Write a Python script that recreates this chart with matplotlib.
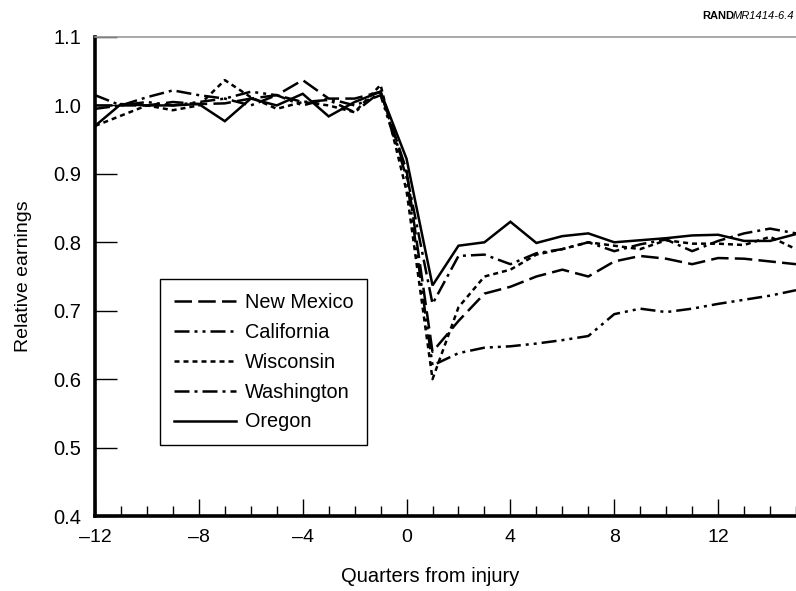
import matplotlib
matplotlib.use("Agg")
import matplotlib.pyplot as plt
from matplotlib.ticker import MultipleLocator, FixedLocator

quarters = list(range(-12, 16))

new_mexico = [1.000, 1.000, 1.000, 1.005, 1.002, 1.003, 1.010, 1.015, 1.037, 1.010, 1.010, 1.020,
              0.905, 0.640, 0.685, 0.725, 0.735, 0.750, 0.760, 0.750, 0.772, 0.780, 0.776, 0.768,
              0.777, 0.776, 0.772, 0.768]
california = [1.015, 1.000, 1.005, 1.000, 1.005, 1.010, 1.020, 1.015, 1.000, 1.010, 1.000, 1.015,
              0.895, 0.620, 0.638, 0.646, 0.648, 0.652, 0.657, 0.663, 0.695, 0.703, 0.698, 0.703,
              0.710, 0.716, 0.722, 0.730]
wisconsin = [0.970, 0.985, 1.000, 0.993, 1.000, 1.037, 1.012, 0.995, 1.005, 1.000, 0.990, 1.030,
             0.875, 0.600, 0.705, 0.750, 0.760, 0.782, 0.790, 0.800, 0.795, 0.790, 0.803, 0.798,
             0.798, 0.796, 0.808, 0.790]
washington = [0.995, 1.000, 1.012, 1.022, 1.015, 1.010, 1.000, 1.015, 1.005, 1.008, 0.990, 1.020,
              0.900, 0.710, 0.780, 0.782, 0.768, 0.784, 0.790, 0.800, 0.787, 0.797, 0.804, 0.787,
              0.802, 0.813, 0.820, 0.813]
oregon = [0.970, 1.002, 1.000, 1.000, 1.002, 0.977, 1.010, 1.000, 1.017, 0.984, 1.005, 1.020,
          0.922, 0.737, 0.795, 0.800, 0.830, 0.799, 0.809, 0.813, 0.800, 0.803, 0.806, 0.810,
          0.811, 0.802, 0.802, 0.812]

series = [
    ("New Mexico", new_mexico, (0, (7, 2.5))),
    ("California", california, (0, (6, 2, 1.2, 2, 1.2, 2))),
    ("Wisconsin", wisconsin, (0, (2, 1.6))),
    ("Washington", washington, (0, (6, 2, 1.2, 2))),
    ("Oregon", oregon, "-"),
]

x_ticks = [-12, -8, -4, 0, 4, 8, 12]
x_tick_labels = ["\u201312", "\u20138", "\u20134", "0", "4", "8", "12"]
y_ticks = [0.4, 0.5, 0.6, 0.7, 0.8, 0.9, 1.0, 1.1]

plt.rcParams["font.family"] = ["Liberation Sans", "DejaVu Sans"]

fig = plt.figure(figsize=(7.96, 5.91), dpi=100)
ax = fig.add_axes([95 / 796, 1 - 516 / 591, 701 / 796, 479 / 591])

for name, vals, ls in series:
    ax.plot(quarters, vals, color="black", linewidth=1.8, linestyle=ls, label=name,
            solid_joinstyle="miter")

ax.set_xlim(-12, 15)
ax.set_ylim(0.4, 1.1)

ax.spines["left"].set_linewidth(2.6)
ax.spines["bottom"].set_linewidth(2.6)
ax.spines["right"].set_visible(False)
ax.spines["top"].set_color("#999999")
ax.spines["top"].set_linewidth(1.2)

ax.xaxis.set_major_locator(FixedLocator(x_ticks))
ax.set_xticklabels(x_tick_labels)
ax.xaxis.set_minor_locator(MultipleLocator(1))
ax.set_yticks(y_ticks)
ax.set_yticklabels([f"{v:.1f}" for v in y_ticks])

ax.tick_params(axis="x", which="major", direction="in", length=12, width=1.0,
               labelsize=14, pad=9, top=False)
ax.tick_params(axis="x", which="minor", direction="in", length=7, width=1.0, top=False)
ax.tick_params(axis="y", which="major", direction="in", length=16, width=1.0,
               labelsize=14.5, pad=10, right=False)

ax.set_xlabel("Quarters from injury", fontsize=14.5)
ax.xaxis.set_label_coords((430 - 95) / 701, -(577 - 516) / 479)
ax.xaxis.label.set_va("center")
ax.set_ylabel("Relative earnings", fontsize=14)
ax.yaxis.set_label_coords(-(95 - 24) / 701, 0.5)
ax.yaxis.label.set_va("center")

leg = ax.legend(loc="upper left", bbox_to_anchor=(0.093, 0.495), fontsize=14.3,
                handlelength=3.1, handletextpad=0.45, labelspacing=0.55,
                borderpad=0.7, borderaxespad=0, fancybox=False, framealpha=1,
                edgecolor="black")
leg.get_frame().set_linewidth(1.0)

fig.text(702 / 796, 1 - 16 / 591, "RAND", fontsize=8, fontweight="bold", va="center", ha="left")
fig.text(733 / 796, 1 - 16 / 591, "MR1414-6.4", fontsize=8, fontstyle="italic", va="center", ha="left")

fig.savefig("out.png", dpi=100)
